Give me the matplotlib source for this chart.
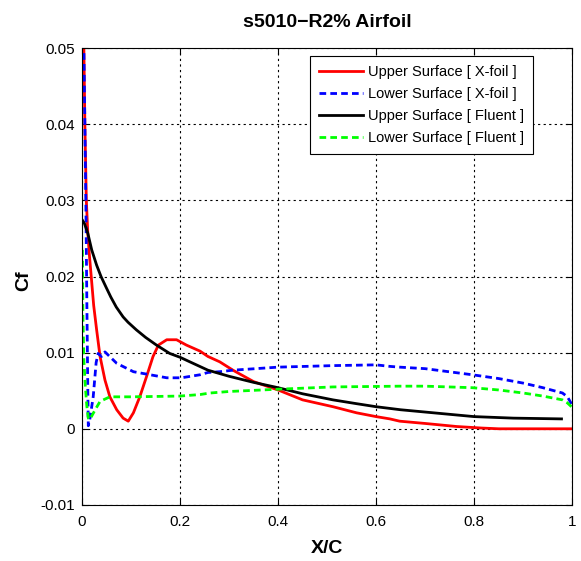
import numpy as np
import matplotlib
matplotlib.use('Agg')
import matplotlib.pyplot as plt

plt.rcParams['font.family'] = ['Liberation Sans', 'DejaVu Sans']

# Skin friction along the chord, s5010 with 2% roughness
x_up_xfoil = [0.000, 0.004, 0.006, 0.009, 0.012, 0.015, 0.019, 0.024, 0.030, 0.037,
              0.047, 0.057, 0.071, 0.084, 0.0945, 0.105, 0.118, 0.132, 0.145, 0.156,
              0.173, 0.193, 0.213, 0.241, 0.257, 0.281, 0.308, 0.350, 0.400, 0.450,
              0.512, 0.560, 0.600, 0.628, 0.648, 0.700, 0.764, 0.815, 0.850, 1.000]
cf_up_xfoil = [0.0650, 0.0500, 0.0400, 0.0300, 0.0257, 0.0230, 0.0200, 0.0162, 0.0130, 0.0095,
               0.0064, 0.0042, 0.0025, 0.0014, 0.0010, 0.0021, 0.0042, 0.0069, 0.0095, 0.0110,
               0.0117, 0.0117, 0.0110, 0.0102, 0.0095, 0.0088, 0.0077, 0.0062, 0.0051, 0.0038,
               0.0029, 0.0021, 0.0016, 0.0013, 0.0010, 0.0007, 0.0003, 0.0001, 0.0000, 0.0000]

x_lo_xfoil = [0.002, 0.004, 0.006, 0.008, 0.010, 0.012, 0.013, 0.016, 0.023, 0.029,
              0.033, 0.040, 0.047, 0.071, 0.105, 0.139, 0.173, 0.203, 0.241, 0.257,
              0.281, 0.308, 0.400, 0.512, 0.600, 0.628, 0.648, 0.700, 0.796, 0.850,
              0.900, 0.940, 0.980, 0.990, 1.000]
cf_lo_xfoil = [0.0600, 0.0500, 0.0400, 0.0300, 0.0170, 0.0050, 0.0004, 0.0012, 0.0042, 0.0087,
               0.0099, 0.0095, 0.0101, 0.0086, 0.0075, 0.0071, 0.0067, 0.0067, 0.0071, 0.0074,
               0.0075, 0.0077, 0.0081, 0.0083, 0.0084, 0.0082, 0.0081, 0.0079, 0.0071, 0.0066,
               0.0060, 0.0054, 0.0047, 0.0042, 0.0031]

x_up_fluent = [0.000, 0.005, 0.012, 0.020, 0.030, 0.039, 0.050, 0.059, 0.070, 0.084,
               0.094, 0.111, 0.130, 0.152, 0.179, 0.200, 0.220, 0.257, 0.300, 0.350,
               0.400, 0.450, 0.512, 0.560, 0.600, 0.650, 0.700, 0.750, 0.800, 0.880,
               0.978]
cf_up_fluent = [0.0275, 0.0270, 0.0257, 0.0235, 0.0215, 0.0200, 0.0185, 0.0173, 0.0160, 0.0147,
                0.0140, 0.0130, 0.0120, 0.0110, 0.0099, 0.0094, 0.0088, 0.0077, 0.0069, 0.0061,
                0.0054, 0.0046, 0.0038, 0.0033, 0.0029, 0.0025, 0.0022, 0.0019, 0.0016, 0.0014,
                0.0013]

x_lo_fluent = [0.001, 0.002, 0.004, 0.007, 0.010, 0.013, 0.016, 0.027, 0.037, 0.057,
               0.100, 0.200, 0.241, 0.261, 0.300, 0.400, 0.512, 0.648, 0.700, 0.796,
               0.850, 0.900, 0.940, 0.980, 0.990, 1.000]
cf_lo_fluent = [0.0235, 0.0150, 0.0090, 0.0055, 0.0030, 0.0014, 0.0012, 0.0025, 0.0036, 0.0042,
                0.0042, 0.0043, 0.0045, 0.0047, 0.0049, 0.0052, 0.0055, 0.0056, 0.0056, 0.0054,
                0.0051, 0.0047, 0.0043, 0.0038, 0.0034, 0.0028]

labels = ['Upper Surface [ X-foil ]', 'Lower Surface [ X-foil ]',
          'Upper Surface [ Fluent ]', 'Lower Surface [ Fluent ]']

fig = plt.figure(figsize=(5.81, 5.61), dpi=100)
ax = fig.add_axes([0.141, 0.100, 0.844, 0.814])

lw = 2.0
dash = (2.4, 1.5)
ax.plot(x_up_xfoil, cf_up_xfoil, color='#ff0000', lw=lw, label=labels[0])
ax.plot(x_lo_xfoil, cf_lo_xfoil, color='#0000ff', lw=lw, dashes=dash, label=labels[1])
ax.plot(x_up_fluent, cf_up_fluent, color='black', lw=lw, label=labels[2])
ax.plot(x_lo_fluent, cf_lo_fluent, color='#00ff00', lw=lw, dashes=dash, label=labels[3])

ax.set_xlim(0, 1)
ax.set_ylim(-0.01, 0.05)
ax.set_xticks(np.arange(0, 1.01, 0.2))
ax.set_xticklabels(['0', '0.2', '0.4', '0.6', '0.8', '1'])
ax.set_yticks(np.arange(-0.01, 0.0501, 0.01))
ax.set_yticklabels(['-0.01', '0', '0.01', '0.02', '0.03', '0.04', '0.05'])
ax.tick_params(direction='in', length=4, top=True, right=True, labelsize=11)
ax.tick_params(axis='x', pad=7)
ax.tick_params(axis='y', pad=5)
ax.grid(True, color='black', linestyle=(0, (2, 3)), linewidth=0.8)

ax.set_title('s5010\u2212R2% Airfoil', fontsize=14, fontweight='bold', pad=15)
ax.set_xlabel('X/C', fontsize=14, fontweight='bold', labelpad=8)
ax.set_ylabel('Cf', fontsize=14, fontweight='bold')
ax.yaxis.set_label_coords(-0.102, 0.49)

leg = ax.legend(loc='upper right', bbox_to_anchor=(0.919, 0.982), borderaxespad=0,
                fontsize=10.5, fancybox=False, framealpha=1, edgecolor='black',
                handlelength=3.0, borderpad=0.6, labelspacing=0.55, handletextpad=0.35)
leg.get_frame().set_linewidth(0.8)

fig.savefig('out.png', dpi=100)
